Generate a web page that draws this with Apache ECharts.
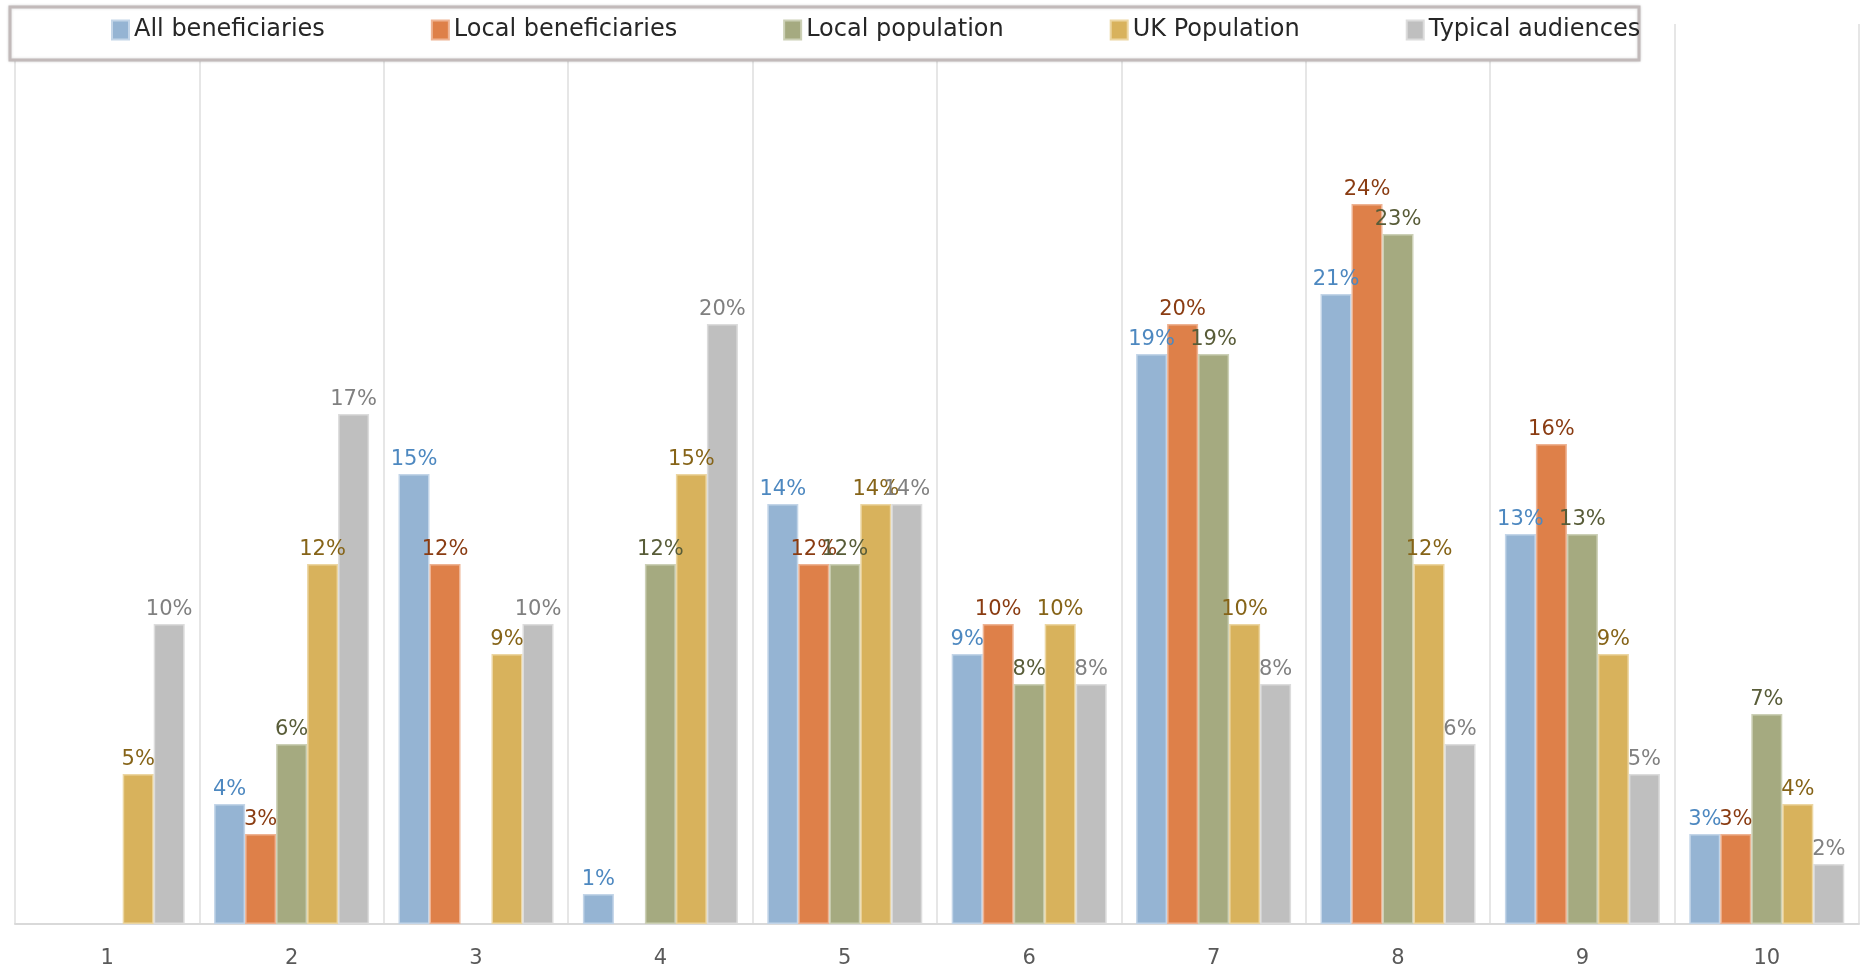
<!DOCTYPE html>
<html>
<head>
<meta charset="utf-8">
<script src="https://cdn.jsdelivr.net/npm/echarts@6/dist/echarts.min.js"></script>
<style>
  html, body { margin: 0; padding: 0; background: #ffffff; }
  #chart { width: 1865px; height: 974px; }
</style>
</head>
<body>
<div id="chart"></div>
<script>
// Categories along the x axis
const categories = ['1', '2', '3', '4', '5', '6', '7', '8', '9', '10'];

// Series names
const seriesNames = ['All beneficiaries', 'Local beneficiaries', 'Local population', 'UK Population', 'Typical audiences'];

// Share of each group per category (percent); null where no bar is drawn
const allBeneficiaries   = [null, 4, 15, 1, 14, 9, 19, 21, 13, 3];
const localBeneficiaries = [null, 3, 12, null, 12, 10, 20, 24, 16, 3];
const localPopulation    = [null, 6, null, 12, 12, 8, 19, 23, 13, 7];
const ukPopulation       = [5, 12, 9, 15, 14, 10, 10, 12, 9, 4];
const typicalAudiences   = [10, 17, 10, 20, 14, 8, 8, 6, 5, 2];

const seriesData = [allBeneficiaries, localBeneficiaries, localPopulation, ukPopulation, typicalAudiences];

// Styling per series: fill, edge and label colour
const fills  = ['#95b4d3', '#de8049', '#a5aa80', '#d8b25c', '#bfbfbf'];
const edges  = ['#c3d5e8', '#eeb393', '#ccd0b6', '#ecd6a2', '#dcdcdc'];
const labelColors = ['#4d88c0', '#8a3c12', '#585c38', '#866418', '#808080'];

const FONT = 'DejaVu Sans, sans-serif';

const chart = echarts.init(document.getElementById('chart'), null, { renderer: 'canvas' });

const series = seriesNames.map((name, i) => ({
  name: name,
  type: 'bar',
  data: seriesData[i],
  barWidth: 31,
  barGap: '0%',
  itemStyle: {
    color: fills[i],
    borderColor: edges[i],
    borderWidth: 1.5
  },
  label: {
    show: true,
    position: 'top',
    distance: 4,
    formatter: (p) => p.value == null ? '' : p.value + '%',
    color: labelColors[i],
    fontFamily: FONT,
    fontSize: 21
  },
  emphasis: { disabled: true }
}));

chart.setOption({
  animation: false,
  backgroundColor: '#ffffff',
  grid: {
    left: 15,
    right: 6,
    top: 24,
    bottom: 50,
    containLabel: false
  },
  graphic: [{
    type: 'rect',
    z: 5,
    shape: { x: 10, y: 7, width: 1629, height: 53 },
    style: {
      fill: '#ffffff',
      stroke: '#c2baba',
      lineWidth: 3,
      shadowBlur: 3,
      shadowColor: 'rgba(0,0,0,0.15)'
    }
  }],
  legend: {
    z: 10,
    left: 111,
    top: 18,
    padding: 0,
    itemGap: 106,
    itemWidth: 17,
    itemHeight: 19,
    icon: 'rect',
    data: seriesNames,
    textStyle: {
      color: '#262626',
      fontFamily: FONT,
      fontSize: 24
    }
  },
  xAxis: {
    type: 'category',
    data: categories,
    boundaryGap: true,
    axisLine: { show: true, lineStyle: { color: '#d9d9d9', width: 2 } },
    axisTick: { show: false },
    axisLabel: {
      color: '#595959',
      fontFamily: FONT,
      fontSize: 21,
      margin: 24
    },
    splitLine: { show: true, lineStyle: { color: '#e6e6e6', width: 2 } }
  },
  yAxis: {
    type: 'value',
    min: 0,
    max: 30,
    show: false,
    splitLine: { show: false }
  },
  series: series
});
</script>
</body>
</html>
